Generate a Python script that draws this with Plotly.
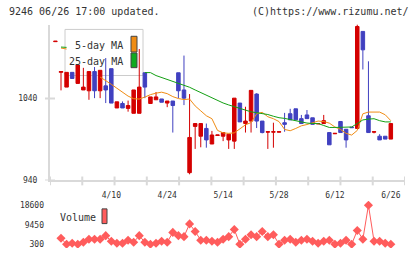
import plotly.graph_objects as go

W, H = 420, 259

# ---------------- data ----------------
idx = list(range(-1, 60))
opens = [1109.5, 1072, 1054, 1072, 1058.5, 1050.5, 1049.5, 1073, 1049.5, 1055.5, 1076.5,
         1028.5, 1034, 1028, 1022, 1022, 1071.5, 1034, 1038.5, 1039.5, 1034.5,
         1037, 1071.5, 1050.5, 949.5, 1006, 994, 1003.5, 984.5, 995, 994,
         989.5, 988, 1034.5, 1009.5, 1012.5, 1045.5, 1012.5, 999, 999, 999,
         1010.5, 1021.5, 1027.5, 1015.5, 1020, 1016.5, 1009, 1009.5, 998.5, 997,
         1012, 1002.5, 1005, 1003.5, 1122, 1019, 999, 994, 994, 990.5]
highs = [1110, 1073.5, 1072, 1072, 1081, 1077.5, 1073, 1078.5, 1074.5, 1089.5, 1076.5,
         1036, 1036.5, 1037.5, 1050.5, 1100.5, 1071.5, 1042, 1048, 1039.5, 1037,
         1037, 1071.5, 1092.5, 1045.5, 1009.5, 1010, 1009.5, 1000.5, 995.5, 998.5,
         996.5, 1040.5, 1034.5, 1030, 1050, 1046.5, 1012.5, 999.5, 1010.5, 999.5,
         1022.5, 1027.5, 1027.5, 1020, 1026, 1016.5, 1009.5, 1020, 998.5, 997.5,
         1012, 1002.5, 1005, 1130.5, 1122, 1085.5, 999.5, 996.5, 994, 1009.5]
lows = [1109.5, 1050, 1054, 1064.5, 1058.5, 1050.5, 1038.5, 1040.5, 1040.5, 1034.5, 1034.5,
        1028.5, 1028.5, 1024, 1022, 1022, 1040.5, 1034, 1038.5, 1035.5, 1029.5,
        998.5, 1040.5, 1032, 947.5, 978.5, 980.5, 980, 984.5, 995, 988,
        978.5, 978.5, 1011.5, 998.5, 998.5, 1004, 997.5, 978.5, 980, 999,
        999.5, 1014, 1014, 1009.5, 1015.5, 1008.5, 1009, 1009.5, 983.5, 997,
        998.5, 980, 1004.5, 1003.5, 1075.5, 998.5, 997.5, 989.5, 990.5, 990.5]
closes = [1110, 1073, 1072, 1064.5, 1081, 1054, 1073, 1049.5, 1074.5, 1050.5, 1034.5,
          1036, 1028.5, 1031.5, 1050.5, 1054, 1054, 1042, 1042, 1035.5, 1037,
          1031.5, 1049.5, 1040.5, 992.5, 1009.5, 1009.5, 989.5, 995.5, 995.5, 998.5,
          996.5, 1040.5, 1011.5, 1012.5, 1050, 1012.5, 998.5, 999.5, 999.5, 999.5,
          1008.5, 1014, 1014, 1009.5, 1015.5, 1008.5, 1009.5, 1013, 983.5, 997.5,
          998.5, 989.5, 1004.5, 1128, 1099.5, 998.5, 999.5, 989.5, 990.5, 1009.5]

days = list(range(0, 60))
# moving averages; None where the line is hidden behind the legend box
ma5 = [1101.7, 1100.5, None, None, None, None, None, 1066.3, 1062.2, 1057.4,
       1052.6, 1047.8, 1043.0, 1039.8, 1039.4, 1041.8, 1044.8, 1046.6, 1047.8, 1046.0,
       1042.4, 1040.0, 1038.8, 1039.4, 1031.0, 1025.0, 1019.0, 1015.4, 1001.1, 998.1,
       997.5, 998.1, 1003.5, 1007.9, 1010.7, 1021.4, 1023.2, 1017.8, 1015.4, 1011.9,
       1002.3, 1000.7, 1003.5, 1006.7, 1008.3, 1010.7, 1012.5, 1011.9, 1010.0, 1005.3,
       1002.3, 997.5, 995.4, 1001.1, 1021.4, 1023.5, 1023.5, 1023.5, 1020.2, 1013.0]
ma25 = [1102.9, 1102.5, None, None, None, None, None, None, None, None,
        None, None, None, None, None, 1071.7, 1071.7, 1068.1, 1065.7, 1063.4,
        1061.6, 1059.2, 1056.8, 1053.8, 1050.5, 1047.2, 1043.8, 1040.6, 1037.4, 1034.6,
        1032.2, 1029.8, 1028.0, 1025.9, 1023.8, 1022.9, 1022.0, 1020.5, 1018.4, 1016.6,
        1015.8, 1014.3, 1012.5, 1011.0, 1010.1, 1009.5, 1009.5, 1007.1, 1004.7, 1004.7,
        1004.7, 1004.7, 1005.3, 1009.5, 1013.9, 1014.9, 1015.4, 1013.0, 1011.5, 1011.5]
volume = [3066, 300, 761, 300, 1222, 2605, 2605, 2605, 4310, 1683,
          761, 761, 2144, 1222, 4310, 1222, 300, 761, 1683, 1222,
          5831, 4310, 3849, 9842, 6292, 2144, 2144, 1683, 1222, 2605,
          3849, 7214, 300, 2605, 4771, 3849, 6292, 3849, 4771, 300,
          2144, 2605, 1222, 2144, 2605, 1683, 761, 1683, 2144, 300,
          761, 2144, 300, 6753, 2605, 18600, 1683, 1683, 761, 300]
tick_idx = [9, 19, 29, 39, 49, 59]
tick_text = ["4/10", "4/24", "5/14", "5/28", "6/12", "6/26"]
price_ticks = [940, 1040]
vol_ticks = [300, 9450, 18600]
vol_tick_text = ["300", "9450", "18600"]

# ---------------- geometry helpers (layout only) ----------------
def px_to_idx(px):
    return (px - 61) / 5.59

def py_to_price(py):
    return 940 + (184 - py) / 0.835

VOL_PER_PX = 18300 / 39.7

def py_to_vol(py):
    return 300 + (249 - py) * VOL_PER_PX

def fx(px):
    return px / W

def fy(py):
    return 1 - py / H

xr = [px_to_idx(50), px_to_idx(405)]
pr = [py_to_price(184), py_to_price(25)]
vr = [py_to_vol(253), py_to_vol(205)]

RED = "#d40000"
BLUE = "#4040c0"
ORANGE = "#f08c14"
GREEN = "#14a014"
VOLC = "#ff5c5c"
AXC = "#d9d9d9"
TXT = "#333333"
MONO = "DejaVu Sans Mono"

fig = go.Figure()

fig.add_trace(go.Candlestick(
    x=idx, open=opens, high=highs, low=lows, close=closes,
    increasing=dict(line=dict(color=RED, width=1), fillcolor=RED),
    decreasing=dict(line=dict(color=BLUE, width=1), fillcolor=BLUE),
    whiskerwidth=0, xaxis="x", yaxis="y", hoverinfo="skip"))

fig.add_trace(go.Scatter(x=days, y=ma5, mode="lines", line=dict(color=ORANGE, width=1),
                         xaxis="x", yaxis="y", hoverinfo="skip", connectgaps=False))
fig.add_trace(go.Scatter(x=days, y=ma25, mode="lines", line=dict(color=GREEN, width=1),
                         xaxis="x", yaxis="y", hoverinfo="skip", connectgaps=False))

fig.add_trace(go.Scatter(x=days, y=volume, mode="lines+markers",
                         line=dict(color=VOLC, width=1),
                         marker=dict(symbol="diamond", size=7, color=VOLC),
                         xaxis="x2", yaxis="y2", hoverinfo="skip"))

shapes = []
# legend background box, below the data
shapes.append(dict(type="rect", layer="below", xref="paper", yref="paper",
                   x0=fx(65), x1=fx(143), y0=fy(77), y1=fy(30),
                   fillcolor="white", line=dict(color="#cccccc", width=1)))
# x ticks crossing the bottom axis line
n_t = 11
for k in range(n_t + 1):
    xv = xr[0] + (xr[1] - xr[0]) * k / n_t
    shapes.append(dict(type="line", xref="x", yref="paper", x0=xv, x1=xv,
                       y0=fy(189), y1=fy(180), line=dict(color=AXC, width=2)))
# y ticks crossing the left axis line
for pv in price_ticks:
    shapes.append(dict(type="line", xref="paper", yref="y", x0=fx(45), x1=fx(55),
                       y0=pv, y1=pv, line=dict(color=AXC, width=2)))
# legend colour boxes
shapes.append(dict(type="rect", xref="paper", yref="paper", x0=fx(131), x1=fx(137),
                   y0=fy(53), y1=fy(37), fillcolor=ORANGE, line=dict(color="#444", width=1)))
shapes.append(dict(type="rect", xref="paper", yref="paper", x0=fx(131), x1=fx(137),
                   y0=fy(69), y1=fy(54), fillcolor="#10aa20", line=dict(color="#444", width=1)))
shapes.append(dict(type="rect", xref="paper", yref="paper", x0=fx(102), x1=fx(107),
                   y0=fy(228), y1=fy(213), fillcolor=VOLC, line=dict(color="#444", width=1)))

ann = [
    dict(text="9246 06/26 17:00 updated.", x=fx(7), y=fy(12), xanchor="left", yanchor="middle"),
    dict(text="(C)https://www.rizumu.net/", x=fx(411), y=fy(12), xanchor="right", yanchor="middle"),
    dict(text="5-day MA", x=fx(125), y=fy(46), xanchor="right", yanchor="middle"),
    dict(text="25-day MA", x=fx(125), y=fy(63), xanchor="right", yanchor="middle"),
    dict(text="Volume", x=fx(58), y=fy(222), xanchor="left", yanchor="middle"),
]
for a in ann:
    a.update(xref="paper", yref="paper", showarrow=False,
             font=dict(family=MONO, size=10, color=TXT))

fig.update_layout(
    width=W, height=H, margin=dict(l=0, r=0, t=0, b=0),
    paper_bgcolor="white", plot_bgcolor="white", showlegend=False,
    boxgap=0.1,
    shapes=shapes, annotations=ann,
    xaxis=dict(domain=[fx(50), fx(405)], range=xr, showgrid=False, zeroline=False,
               showline=True, linecolor=AXC, linewidth=2, anchor="y",
               tickmode="array", tickvals=tick_idx, ticktext=tick_text, ticks="",
               ticklabelstandoff=6,
               tickfont=dict(family=MONO, size=8, color=TXT),
               rangeslider=dict(visible=False), fixedrange=True),
    yaxis=dict(domain=[fy(184), fy(25)], range=pr, showgrid=False, zeroline=False,
               showline=True, linecolor=AXC, linewidth=2, anchor="x",
               tickmode="array", tickvals=price_ticks, ticks="",
               ticklabelstandoff=9,
               tickfont=dict(family=MONO, size=8, color=TXT), fixedrange=True),
    xaxis2=dict(domain=[fx(50), fx(405)], range=xr, visible=False, anchor="y2",
                fixedrange=True),
    yaxis2=dict(domain=[fy(253), fy(205)], range=vr, showgrid=False, zeroline=False,
                showline=False, anchor="x2", tickmode="array", tickvals=vol_ticks,
                ticktext=vol_tick_text, ticks="", ticklabelstandoff=5,
                tickfont=dict(family=MONO, size=8, color=TXT), fixedrange=True),
)

fig.write_html("out.html")
